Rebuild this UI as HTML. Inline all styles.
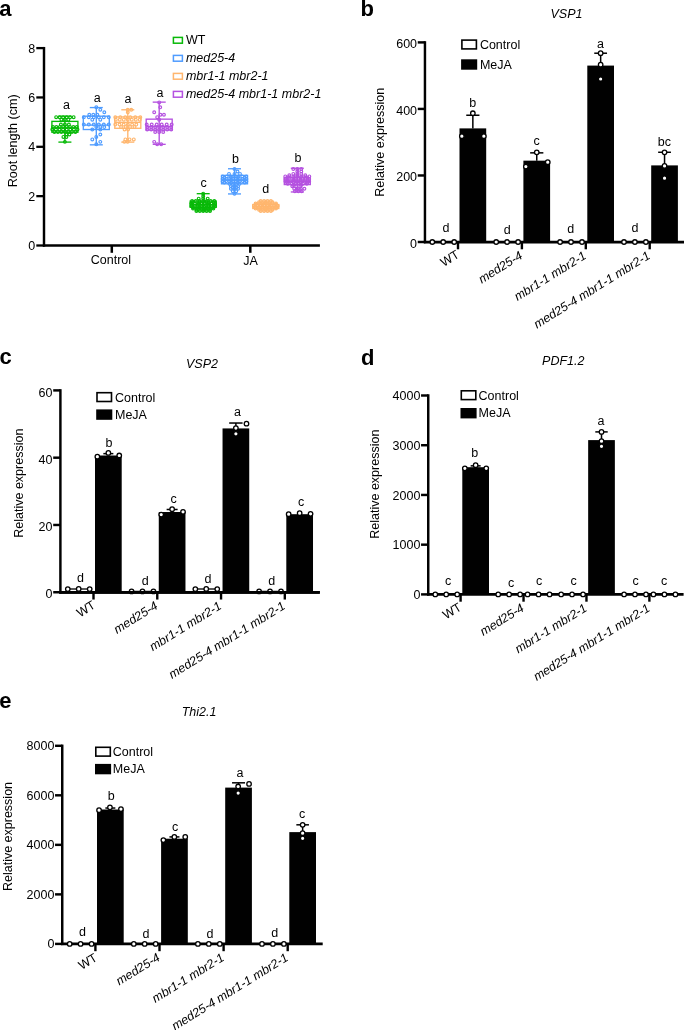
<!DOCTYPE html>
<html><head><meta charset="utf-8"><title>Figure</title>
<style>html,body{margin:0;padding:0;background:#fff}svg{display:block;will-change:transform;opacity:0.9999}text{font-family:"Liberation Sans",sans-serif}</style>
</head><body>
<svg width="685" height="1030" viewBox="0 0 685 1030">
<rect width="685" height="1030" fill="#fff"/>
<text x="-0.8" y="15.8" font-size="22" text-anchor="start" font-weight="bold" fill="#000">a</text>
<line x1="44.00" y1="46.95" x2="44.00" y2="246.65" stroke="#000" stroke-width="2.45" stroke-linecap="butt"/>
<line x1="42.90" y1="245.50" x2="319.90" y2="245.50" stroke="#000" stroke-width="2.5" stroke-linecap="butt"/>
<line x1="36.30" y1="245.50" x2="44.00" y2="245.50" stroke="#000" stroke-width="2.3" stroke-linecap="butt"/>
<text x="35.3" y="250.0" font-size="12.5" text-anchor="end" fill="#000">0</text>
<line x1="36.30" y1="196.15" x2="44.00" y2="196.15" stroke="#000" stroke-width="2.3" stroke-linecap="butt"/>
<text x="35.3" y="200.65" font-size="12.5" text-anchor="end" fill="#000">2</text>
<line x1="36.30" y1="146.80" x2="44.00" y2="146.80" stroke="#000" stroke-width="2.3" stroke-linecap="butt"/>
<text x="35.3" y="151.3" font-size="12.5" text-anchor="end" fill="#000">4</text>
<line x1="36.30" y1="97.45" x2="44.00" y2="97.45" stroke="#000" stroke-width="2.3" stroke-linecap="butt"/>
<text x="35.3" y="101.94999999999999" font-size="12.5" text-anchor="end" fill="#000">6</text>
<line x1="36.30" y1="48.10" x2="44.00" y2="48.10" stroke="#000" stroke-width="2.3" stroke-linecap="butt"/>
<text x="35.3" y="52.599999999999994" font-size="12.5" text-anchor="end" fill="#000">8</text>
<line x1="111.80" y1="245.50" x2="111.80" y2="252.80" stroke="#000" stroke-width="2.5" stroke-linecap="butt"/>
<text x="110.9" y="263.7" font-size="12.5" text-anchor="middle" fill="#000">Control</text>
<line x1="250.30" y1="245.50" x2="250.30" y2="252.80" stroke="#000" stroke-width="2.5" stroke-linecap="butt"/>
<text x="250.5" y="264.7" font-size="12.5" text-anchor="middle" fill="#000">JA</text>
<text x="16.8" y="140.8" font-size="12.6" text-anchor="middle" transform="rotate(-90 16.8 140.8)" fill="#000">Root length (cm)</text>
<rect x="173.40" y="37.40" width="9.00" height="5.80" fill="#fff" stroke="#08B908" stroke-width="1.5"/>
<text x="185.9" y="43.8" font-size="12.5" text-anchor="start" fill="#000">WT</text>
<rect x="173.40" y="55.40" width="9.00" height="5.80" fill="#fff" stroke="#4F9CFF" stroke-width="1.5"/>
<text x="185.9" y="61.8" font-size="12.5" text-anchor="start" font-style="italic" fill="#000">med25-4</text>
<rect x="173.40" y="73.40" width="9.00" height="5.80" fill="#fff" stroke="#FFB66E" stroke-width="1.5"/>
<text x="185.9" y="79.8" font-size="12.5" text-anchor="start" font-style="italic" fill="#000">mbr1-1 mbr2-1</text>
<rect x="173.40" y="91.40" width="9.00" height="5.80" fill="#fff" stroke="#B552E0" stroke-width="1.5"/>
<text x="185.9" y="97.8" font-size="12.5" text-anchor="start" font-style="italic" fill="#000">med25-4 mbr1-1 mbr2-1</text>
<line x1="64.90" y1="142.11" x2="64.90" y2="116.20" stroke="#08B908" stroke-width="1.35" stroke-linecap="butt"/>
<line x1="58.40" y1="142.11" x2="71.40" y2="142.11" stroke="#08B908" stroke-width="1.35" stroke-linecap="butt"/>
<line x1="58.40" y1="116.20" x2="71.40" y2="116.20" stroke="#08B908" stroke-width="1.35" stroke-linecap="butt"/>
<rect x="51.90" y="121.38" width="26.00" height="10.86" fill="none" stroke="#08B908" stroke-width="1.35"/>
<line x1="51.90" y1="127.80" x2="77.90" y2="127.80" stroke="#08B908" stroke-width="1.35" stroke-linecap="butt"/>
<circle cx="56.15" cy="117.19" r="1.4" fill="none" stroke="#08B908" stroke-width="1.15"/>
<circle cx="59.65" cy="117.19" r="1.4" fill="none" stroke="#08B908" stroke-width="1.15"/>
<circle cx="63.15" cy="117.19" r="1.4" fill="none" stroke="#08B908" stroke-width="1.15"/>
<circle cx="66.65" cy="117.19" r="1.4" fill="none" stroke="#08B908" stroke-width="1.15"/>
<circle cx="70.15" cy="117.19" r="1.4" fill="none" stroke="#08B908" stroke-width="1.15"/>
<circle cx="73.65" cy="117.19" r="1.4" fill="none" stroke="#08B908" stroke-width="1.15"/>
<circle cx="61.40" cy="119.66" r="1.4" fill="none" stroke="#08B908" stroke-width="1.15"/>
<circle cx="64.90" cy="119.66" r="1.4" fill="none" stroke="#08B908" stroke-width="1.15"/>
<circle cx="68.40" cy="119.66" r="1.4" fill="none" stroke="#08B908" stroke-width="1.15"/>
<circle cx="60.90" cy="124.59" r="1.4" fill="none" stroke="#08B908" stroke-width="1.15"/>
<circle cx="64.90" cy="124.59" r="1.4" fill="none" stroke="#08B908" stroke-width="1.15"/>
<circle cx="68.90" cy="124.59" r="1.4" fill="none" stroke="#08B908" stroke-width="1.15"/>
<circle cx="53.00" cy="127.06" r="1.4" fill="none" stroke="#08B908" stroke-width="1.15"/>
<circle cx="56.40" cy="127.06" r="1.4" fill="none" stroke="#08B908" stroke-width="1.15"/>
<circle cx="59.80" cy="127.06" r="1.4" fill="none" stroke="#08B908" stroke-width="1.15"/>
<circle cx="63.20" cy="127.06" r="1.4" fill="none" stroke="#08B908" stroke-width="1.15"/>
<circle cx="66.60" cy="127.06" r="1.4" fill="none" stroke="#08B908" stroke-width="1.15"/>
<circle cx="70.00" cy="127.06" r="1.4" fill="none" stroke="#08B908" stroke-width="1.15"/>
<circle cx="73.40" cy="127.06" r="1.4" fill="none" stroke="#08B908" stroke-width="1.15"/>
<circle cx="76.80" cy="127.06" r="1.4" fill="none" stroke="#08B908" stroke-width="1.15"/>
<circle cx="52.30" cy="129.53" r="1.4" fill="none" stroke="#08B908" stroke-width="1.15"/>
<circle cx="55.90" cy="129.53" r="1.4" fill="none" stroke="#08B908" stroke-width="1.15"/>
<circle cx="59.50" cy="129.53" r="1.4" fill="none" stroke="#08B908" stroke-width="1.15"/>
<circle cx="63.10" cy="129.53" r="1.4" fill="none" stroke="#08B908" stroke-width="1.15"/>
<circle cx="66.70" cy="129.53" r="1.4" fill="none" stroke="#08B908" stroke-width="1.15"/>
<circle cx="70.30" cy="129.53" r="1.4" fill="none" stroke="#08B908" stroke-width="1.15"/>
<circle cx="73.90" cy="129.53" r="1.4" fill="none" stroke="#08B908" stroke-width="1.15"/>
<circle cx="77.50" cy="129.53" r="1.4" fill="none" stroke="#08B908" stroke-width="1.15"/>
<circle cx="54.40" cy="132.00" r="1.4" fill="none" stroke="#08B908" stroke-width="1.15"/>
<circle cx="57.90" cy="132.00" r="1.4" fill="none" stroke="#08B908" stroke-width="1.15"/>
<circle cx="61.40" cy="132.00" r="1.4" fill="none" stroke="#08B908" stroke-width="1.15"/>
<circle cx="64.90" cy="132.00" r="1.4" fill="none" stroke="#08B908" stroke-width="1.15"/>
<circle cx="68.40" cy="132.00" r="1.4" fill="none" stroke="#08B908" stroke-width="1.15"/>
<circle cx="71.90" cy="132.00" r="1.4" fill="none" stroke="#08B908" stroke-width="1.15"/>
<circle cx="75.40" cy="132.00" r="1.4" fill="none" stroke="#08B908" stroke-width="1.15"/>
<circle cx="66.40" cy="134.46" r="1.4" fill="none" stroke="#08B908" stroke-width="1.15"/>
<circle cx="69.40" cy="134.46" r="1.4" fill="none" stroke="#08B908" stroke-width="1.15"/>
<circle cx="63.40" cy="136.93" r="1.4" fill="none" stroke="#08B908" stroke-width="1.15"/>
<circle cx="66.40" cy="136.93" r="1.4" fill="none" stroke="#08B908" stroke-width="1.15"/>
<circle cx="64.90" cy="141.87" r="1.4" fill="none" stroke="#08B908" stroke-width="1.15"/>
<text x="66.4" y="108.9" font-size="12.5" text-anchor="middle" fill="#000">a</text>
<line x1="96.30" y1="144.83" x2="96.30" y2="107.57" stroke="#4F9CFF" stroke-width="1.35" stroke-linecap="butt"/>
<line x1="89.80" y1="144.83" x2="102.80" y2="144.83" stroke="#4F9CFF" stroke-width="1.35" stroke-linecap="butt"/>
<line x1="89.80" y1="107.57" x2="102.80" y2="107.57" stroke="#4F9CFF" stroke-width="1.35" stroke-linecap="butt"/>
<rect x="83.30" y="116.20" width="26.00" height="13.32" fill="none" stroke="#4F9CFF" stroke-width="1.35"/>
<line x1="83.30" y1="125.09" x2="109.30" y2="125.09" stroke="#4F9CFF" stroke-width="1.35" stroke-linecap="butt"/>
<circle cx="96.30" cy="107.32" r="1.4" fill="none" stroke="#4F9CFF" stroke-width="1.15"/>
<circle cx="100.30" cy="109.79" r="1.4" fill="none" stroke="#4F9CFF" stroke-width="1.15"/>
<circle cx="104.30" cy="112.25" r="1.4" fill="none" stroke="#4F9CFF" stroke-width="1.15"/>
<circle cx="89.30" cy="114.72" r="1.4" fill="none" stroke="#4F9CFF" stroke-width="1.15"/>
<circle cx="93.30" cy="114.72" r="1.4" fill="none" stroke="#4F9CFF" stroke-width="1.15"/>
<circle cx="97.30" cy="114.72" r="1.4" fill="none" stroke="#4F9CFF" stroke-width="1.15"/>
<circle cx="83.80" cy="117.19" r="1.4" fill="none" stroke="#4F9CFF" stroke-width="1.15"/>
<circle cx="88.80" cy="117.19" r="1.4" fill="none" stroke="#4F9CFF" stroke-width="1.15"/>
<circle cx="93.80" cy="117.19" r="1.4" fill="none" stroke="#4F9CFF" stroke-width="1.15"/>
<circle cx="98.80" cy="117.19" r="1.4" fill="none" stroke="#4F9CFF" stroke-width="1.15"/>
<circle cx="103.80" cy="117.19" r="1.4" fill="none" stroke="#4F9CFF" stroke-width="1.15"/>
<circle cx="108.80" cy="117.19" r="1.4" fill="none" stroke="#4F9CFF" stroke-width="1.15"/>
<circle cx="92.30" cy="119.66" r="1.4" fill="none" stroke="#4F9CFF" stroke-width="1.15"/>
<circle cx="100.30" cy="119.66" r="1.4" fill="none" stroke="#4F9CFF" stroke-width="1.15"/>
<circle cx="83.80" cy="124.59" r="1.4" fill="none" stroke="#4F9CFF" stroke-width="1.15"/>
<circle cx="88.80" cy="124.59" r="1.4" fill="none" stroke="#4F9CFF" stroke-width="1.15"/>
<circle cx="93.80" cy="124.59" r="1.4" fill="none" stroke="#4F9CFF" stroke-width="1.15"/>
<circle cx="98.80" cy="124.59" r="1.4" fill="none" stroke="#4F9CFF" stroke-width="1.15"/>
<circle cx="103.80" cy="124.59" r="1.4" fill="none" stroke="#4F9CFF" stroke-width="1.15"/>
<circle cx="108.80" cy="124.59" r="1.4" fill="none" stroke="#4F9CFF" stroke-width="1.15"/>
<circle cx="96.30" cy="127.06" r="1.4" fill="none" stroke="#4F9CFF" stroke-width="1.15"/>
<circle cx="100.30" cy="127.06" r="1.4" fill="none" stroke="#4F9CFF" stroke-width="1.15"/>
<circle cx="104.30" cy="127.06" r="1.4" fill="none" stroke="#4F9CFF" stroke-width="1.15"/>
<circle cx="92.30" cy="129.53" r="1.4" fill="none" stroke="#4F9CFF" stroke-width="1.15"/>
<circle cx="100.30" cy="129.53" r="1.4" fill="none" stroke="#4F9CFF" stroke-width="1.15"/>
<circle cx="100.30" cy="134.46" r="1.4" fill="none" stroke="#4F9CFF" stroke-width="1.15"/>
<circle cx="96.30" cy="136.93" r="1.4" fill="none" stroke="#4F9CFF" stroke-width="1.15"/>
<circle cx="92.30" cy="139.40" r="1.4" fill="none" stroke="#4F9CFF" stroke-width="1.15"/>
<circle cx="100.30" cy="141.87" r="1.4" fill="none" stroke="#4F9CFF" stroke-width="1.15"/>
<circle cx="96.30" cy="144.33" r="1.4" fill="none" stroke="#4F9CFF" stroke-width="1.15"/>
<text x="97.2" y="101.5" font-size="12.5" text-anchor="middle" fill="#000">a</text>
<line x1="127.80" y1="142.11" x2="127.80" y2="109.79" stroke="#FFB66E" stroke-width="1.35" stroke-linecap="butt"/>
<line x1="121.30" y1="142.11" x2="134.30" y2="142.11" stroke="#FFB66E" stroke-width="1.35" stroke-linecap="butt"/>
<line x1="121.30" y1="109.79" x2="134.30" y2="109.79" stroke="#FFB66E" stroke-width="1.35" stroke-linecap="butt"/>
<rect x="114.80" y="116.94" width="26.00" height="11.35" fill="none" stroke="#FFB66E" stroke-width="1.35"/>
<line x1="114.80" y1="122.37" x2="140.80" y2="122.37" stroke="#FFB66E" stroke-width="1.35" stroke-linecap="butt"/>
<circle cx="127.75" cy="109.79" r="1.4" fill="none" stroke="#FFB66E" stroke-width="1.15"/>
<circle cx="131.25" cy="109.79" r="1.4" fill="none" stroke="#FFB66E" stroke-width="1.15"/>
<circle cx="127.80" cy="112.25" r="1.4" fill="none" stroke="#FFB66E" stroke-width="1.15"/>
<circle cx="115.30" cy="117.19" r="1.4" fill="none" stroke="#FFB66E" stroke-width="1.15"/>
<circle cx="120.30" cy="117.19" r="1.4" fill="none" stroke="#FFB66E" stroke-width="1.15"/>
<circle cx="125.30" cy="117.19" r="1.4" fill="none" stroke="#FFB66E" stroke-width="1.15"/>
<circle cx="130.30" cy="117.19" r="1.4" fill="none" stroke="#FFB66E" stroke-width="1.15"/>
<circle cx="135.30" cy="117.19" r="1.4" fill="none" stroke="#FFB66E" stroke-width="1.15"/>
<circle cx="140.30" cy="117.19" r="1.4" fill="none" stroke="#FFB66E" stroke-width="1.15"/>
<circle cx="115.80" cy="119.66" r="1.4" fill="none" stroke="#FFB66E" stroke-width="1.15"/>
<circle cx="119.80" cy="119.66" r="1.4" fill="none" stroke="#FFB66E" stroke-width="1.15"/>
<circle cx="123.80" cy="119.66" r="1.4" fill="none" stroke="#FFB66E" stroke-width="1.15"/>
<circle cx="127.80" cy="119.66" r="1.4" fill="none" stroke="#FFB66E" stroke-width="1.15"/>
<circle cx="131.80" cy="119.66" r="1.4" fill="none" stroke="#FFB66E" stroke-width="1.15"/>
<circle cx="135.80" cy="119.66" r="1.4" fill="none" stroke="#FFB66E" stroke-width="1.15"/>
<circle cx="139.80" cy="119.66" r="1.4" fill="none" stroke="#FFB66E" stroke-width="1.15"/>
<circle cx="115.30" cy="124.59" r="1.4" fill="none" stroke="#FFB66E" stroke-width="1.15"/>
<circle cx="119.50" cy="124.59" r="1.4" fill="none" stroke="#FFB66E" stroke-width="1.15"/>
<circle cx="123.70" cy="124.59" r="1.4" fill="none" stroke="#FFB66E" stroke-width="1.15"/>
<circle cx="127.90" cy="124.59" r="1.4" fill="none" stroke="#FFB66E" stroke-width="1.15"/>
<circle cx="132.10" cy="124.59" r="1.4" fill="none" stroke="#FFB66E" stroke-width="1.15"/>
<circle cx="136.30" cy="124.59" r="1.4" fill="none" stroke="#FFB66E" stroke-width="1.15"/>
<circle cx="121.05" cy="127.06" r="1.4" fill="none" stroke="#FFB66E" stroke-width="1.15"/>
<circle cx="125.55" cy="127.06" r="1.4" fill="none" stroke="#FFB66E" stroke-width="1.15"/>
<circle cx="130.05" cy="127.06" r="1.4" fill="none" stroke="#FFB66E" stroke-width="1.15"/>
<circle cx="134.55" cy="127.06" r="1.4" fill="none" stroke="#FFB66E" stroke-width="1.15"/>
<circle cx="124.55" cy="129.53" r="1.4" fill="none" stroke="#FFB66E" stroke-width="1.15"/>
<circle cx="128.05" cy="129.53" r="1.4" fill="none" stroke="#FFB66E" stroke-width="1.15"/>
<circle cx="125.40" cy="139.40" r="1.4" fill="none" stroke="#FFB66E" stroke-width="1.15"/>
<circle cx="129.60" cy="139.40" r="1.4" fill="none" stroke="#FFB66E" stroke-width="1.15"/>
<circle cx="133.80" cy="139.40" r="1.4" fill="none" stroke="#FFB66E" stroke-width="1.15"/>
<circle cx="124.40" cy="141.87" r="1.4" fill="none" stroke="#FFB66E" stroke-width="1.15"/>
<circle cx="127.60" cy="141.87" r="1.4" fill="none" stroke="#FFB66E" stroke-width="1.15"/>
<text x="127.9" y="103.0" font-size="12.5" text-anchor="middle" fill="#000">a</text>
<line x1="159.20" y1="144.33" x2="159.20" y2="102.14" stroke="#B552E0" stroke-width="1.35" stroke-linecap="butt"/>
<line x1="152.70" y1="144.33" x2="165.70" y2="144.33" stroke="#B552E0" stroke-width="1.35" stroke-linecap="butt"/>
<line x1="152.70" y1="102.14" x2="165.70" y2="102.14" stroke="#B552E0" stroke-width="1.35" stroke-linecap="butt"/>
<rect x="146.20" y="119.16" width="26.00" height="10.86" fill="none" stroke="#B552E0" stroke-width="1.35"/>
<line x1="146.20" y1="126.57" x2="172.20" y2="126.57" stroke="#B552E0" stroke-width="1.35" stroke-linecap="butt"/>
<circle cx="159.20" cy="102.38" r="1.4" fill="none" stroke="#B552E0" stroke-width="1.15"/>
<circle cx="160.20" cy="107.32" r="1.4" fill="none" stroke="#B552E0" stroke-width="1.15"/>
<circle cx="154.20" cy="112.25" r="1.4" fill="none" stroke="#B552E0" stroke-width="1.15"/>
<circle cx="160.45" cy="114.72" r="1.4" fill="none" stroke="#B552E0" stroke-width="1.15"/>
<circle cx="163.95" cy="114.72" r="1.4" fill="none" stroke="#B552E0" stroke-width="1.15"/>
<circle cx="157.20" cy="117.19" r="1.4" fill="none" stroke="#B552E0" stroke-width="1.15"/>
<circle cx="159.20" cy="119.66" r="1.4" fill="none" stroke="#B552E0" stroke-width="1.15"/>
<circle cx="146.70" cy="124.59" r="1.4" fill="none" stroke="#B552E0" stroke-width="1.15"/>
<circle cx="151.70" cy="124.59" r="1.4" fill="none" stroke="#B552E0" stroke-width="1.15"/>
<circle cx="156.70" cy="124.59" r="1.4" fill="none" stroke="#B552E0" stroke-width="1.15"/>
<circle cx="161.70" cy="124.59" r="1.4" fill="none" stroke="#B552E0" stroke-width="1.15"/>
<circle cx="166.70" cy="124.59" r="1.4" fill="none" stroke="#B552E0" stroke-width="1.15"/>
<circle cx="171.70" cy="124.59" r="1.4" fill="none" stroke="#B552E0" stroke-width="1.15"/>
<circle cx="147.20" cy="127.06" r="1.4" fill="none" stroke="#B552E0" stroke-width="1.15"/>
<circle cx="151.20" cy="127.06" r="1.4" fill="none" stroke="#B552E0" stroke-width="1.15"/>
<circle cx="155.20" cy="127.06" r="1.4" fill="none" stroke="#B552E0" stroke-width="1.15"/>
<circle cx="159.20" cy="127.06" r="1.4" fill="none" stroke="#B552E0" stroke-width="1.15"/>
<circle cx="163.20" cy="127.06" r="1.4" fill="none" stroke="#B552E0" stroke-width="1.15"/>
<circle cx="167.20" cy="127.06" r="1.4" fill="none" stroke="#B552E0" stroke-width="1.15"/>
<circle cx="171.20" cy="127.06" r="1.4" fill="none" stroke="#B552E0" stroke-width="1.15"/>
<circle cx="147.20" cy="129.53" r="1.4" fill="none" stroke="#B552E0" stroke-width="1.15"/>
<circle cx="151.20" cy="129.53" r="1.4" fill="none" stroke="#B552E0" stroke-width="1.15"/>
<circle cx="155.20" cy="129.53" r="1.4" fill="none" stroke="#B552E0" stroke-width="1.15"/>
<circle cx="159.20" cy="129.53" r="1.4" fill="none" stroke="#B552E0" stroke-width="1.15"/>
<circle cx="163.20" cy="129.53" r="1.4" fill="none" stroke="#B552E0" stroke-width="1.15"/>
<circle cx="167.20" cy="129.53" r="1.4" fill="none" stroke="#B552E0" stroke-width="1.15"/>
<circle cx="171.20" cy="129.53" r="1.4" fill="none" stroke="#B552E0" stroke-width="1.15"/>
<circle cx="155.20" cy="132.00" r="1.4" fill="none" stroke="#B552E0" stroke-width="1.15"/>
<circle cx="159.20" cy="132.00" r="1.4" fill="none" stroke="#B552E0" stroke-width="1.15"/>
<circle cx="163.20" cy="132.00" r="1.4" fill="none" stroke="#B552E0" stroke-width="1.15"/>
<circle cx="154.20" cy="141.87" r="1.4" fill="none" stroke="#B552E0" stroke-width="1.15"/>
<circle cx="157.20" cy="144.33" r="1.4" fill="none" stroke="#B552E0" stroke-width="1.15"/>
<circle cx="161.20" cy="144.33" r="1.4" fill="none" stroke="#B552E0" stroke-width="1.15"/>
<text x="160.0" y="97.1" font-size="12.5" text-anchor="middle" fill="#000">a</text>
<line x1="203.20" y1="210.95" x2="203.20" y2="193.68" stroke="#08B908" stroke-width="1.35" stroke-linecap="butt"/>
<line x1="196.70" y1="210.95" x2="209.70" y2="210.95" stroke="#08B908" stroke-width="1.35" stroke-linecap="butt"/>
<line x1="196.70" y1="193.68" x2="209.70" y2="193.68" stroke="#08B908" stroke-width="1.35" stroke-linecap="butt"/>
<rect x="190.20" y="201.09" width="26.00" height="6.17" fill="none" stroke="#08B908" stroke-width="1.35"/>
<line x1="190.20" y1="204.79" x2="216.20" y2="204.79" stroke="#08B908" stroke-width="1.35" stroke-linecap="butt"/>
<circle cx="203.20" cy="193.68" r="1.4" fill="none" stroke="#08B908" stroke-width="1.15"/>
<circle cx="203.20" cy="196.15" r="1.4" fill="none" stroke="#08B908" stroke-width="1.15"/>
<circle cx="198.70" cy="198.62" r="1.4" fill="none" stroke="#08B908" stroke-width="1.15"/>
<circle cx="203.20" cy="198.62" r="1.4" fill="none" stroke="#08B908" stroke-width="1.15"/>
<circle cx="207.70" cy="198.62" r="1.4" fill="none" stroke="#08B908" stroke-width="1.15"/>
<circle cx="192.10" cy="201.09" r="1.4" fill="none" stroke="#08B908" stroke-width="1.15"/>
<circle cx="195.80" cy="201.09" r="1.4" fill="none" stroke="#08B908" stroke-width="1.15"/>
<circle cx="199.50" cy="201.09" r="1.4" fill="none" stroke="#08B908" stroke-width="1.15"/>
<circle cx="203.20" cy="201.09" r="1.4" fill="none" stroke="#08B908" stroke-width="1.15"/>
<circle cx="206.90" cy="201.09" r="1.4" fill="none" stroke="#08B908" stroke-width="1.15"/>
<circle cx="210.60" cy="201.09" r="1.4" fill="none" stroke="#08B908" stroke-width="1.15"/>
<circle cx="214.30" cy="201.09" r="1.4" fill="none" stroke="#08B908" stroke-width="1.15"/>
<circle cx="193.00" cy="202.32" r="1.4" fill="none" stroke="#08B908" stroke-width="1.15"/>
<circle cx="199.80" cy="202.32" r="1.4" fill="none" stroke="#08B908" stroke-width="1.15"/>
<circle cx="206.60" cy="202.32" r="1.4" fill="none" stroke="#08B908" stroke-width="1.15"/>
<circle cx="213.40" cy="202.32" r="1.4" fill="none" stroke="#08B908" stroke-width="1.15"/>
<circle cx="191.30" cy="203.55" r="1.4" fill="none" stroke="#08B908" stroke-width="1.15"/>
<circle cx="194.70" cy="203.55" r="1.4" fill="none" stroke="#08B908" stroke-width="1.15"/>
<circle cx="198.10" cy="203.55" r="1.4" fill="none" stroke="#08B908" stroke-width="1.15"/>
<circle cx="201.50" cy="203.55" r="1.4" fill="none" stroke="#08B908" stroke-width="1.15"/>
<circle cx="204.90" cy="203.55" r="1.4" fill="none" stroke="#08B908" stroke-width="1.15"/>
<circle cx="208.30" cy="203.55" r="1.4" fill="none" stroke="#08B908" stroke-width="1.15"/>
<circle cx="211.70" cy="203.55" r="1.4" fill="none" stroke="#08B908" stroke-width="1.15"/>
<circle cx="215.10" cy="203.55" r="1.4" fill="none" stroke="#08B908" stroke-width="1.15"/>
<circle cx="192.00" cy="204.79" r="1.4" fill="none" stroke="#08B908" stroke-width="1.15"/>
<circle cx="197.60" cy="204.79" r="1.4" fill="none" stroke="#08B908" stroke-width="1.15"/>
<circle cx="203.20" cy="204.79" r="1.4" fill="none" stroke="#08B908" stroke-width="1.15"/>
<circle cx="208.80" cy="204.79" r="1.4" fill="none" stroke="#08B908" stroke-width="1.15"/>
<circle cx="214.40" cy="204.79" r="1.4" fill="none" stroke="#08B908" stroke-width="1.15"/>
<circle cx="191.30" cy="206.02" r="1.4" fill="none" stroke="#08B908" stroke-width="1.15"/>
<circle cx="194.70" cy="206.02" r="1.4" fill="none" stroke="#08B908" stroke-width="1.15"/>
<circle cx="198.10" cy="206.02" r="1.4" fill="none" stroke="#08B908" stroke-width="1.15"/>
<circle cx="201.50" cy="206.02" r="1.4" fill="none" stroke="#08B908" stroke-width="1.15"/>
<circle cx="204.90" cy="206.02" r="1.4" fill="none" stroke="#08B908" stroke-width="1.15"/>
<circle cx="208.30" cy="206.02" r="1.4" fill="none" stroke="#08B908" stroke-width="1.15"/>
<circle cx="211.70" cy="206.02" r="1.4" fill="none" stroke="#08B908" stroke-width="1.15"/>
<circle cx="215.10" cy="206.02" r="1.4" fill="none" stroke="#08B908" stroke-width="1.15"/>
<circle cx="193.00" cy="207.25" r="1.4" fill="none" stroke="#08B908" stroke-width="1.15"/>
<circle cx="199.80" cy="207.25" r="1.4" fill="none" stroke="#08B908" stroke-width="1.15"/>
<circle cx="206.60" cy="207.25" r="1.4" fill="none" stroke="#08B908" stroke-width="1.15"/>
<circle cx="213.40" cy="207.25" r="1.4" fill="none" stroke="#08B908" stroke-width="1.15"/>
<circle cx="193.00" cy="208.49" r="1.4" fill="none" stroke="#08B908" stroke-width="1.15"/>
<circle cx="196.40" cy="208.49" r="1.4" fill="none" stroke="#08B908" stroke-width="1.15"/>
<circle cx="199.80" cy="208.49" r="1.4" fill="none" stroke="#08B908" stroke-width="1.15"/>
<circle cx="203.20" cy="208.49" r="1.4" fill="none" stroke="#08B908" stroke-width="1.15"/>
<circle cx="206.60" cy="208.49" r="1.4" fill="none" stroke="#08B908" stroke-width="1.15"/>
<circle cx="210.00" cy="208.49" r="1.4" fill="none" stroke="#08B908" stroke-width="1.15"/>
<circle cx="213.40" cy="208.49" r="1.4" fill="none" stroke="#08B908" stroke-width="1.15"/>
<circle cx="196.40" cy="209.72" r="1.4" fill="none" stroke="#08B908" stroke-width="1.15"/>
<circle cx="203.20" cy="209.72" r="1.4" fill="none" stroke="#08B908" stroke-width="1.15"/>
<circle cx="210.00" cy="209.72" r="1.4" fill="none" stroke="#08B908" stroke-width="1.15"/>
<circle cx="196.40" cy="210.95" r="1.4" fill="none" stroke="#08B908" stroke-width="1.15"/>
<circle cx="199.80" cy="210.95" r="1.4" fill="none" stroke="#08B908" stroke-width="1.15"/>
<circle cx="203.20" cy="210.95" r="1.4" fill="none" stroke="#08B908" stroke-width="1.15"/>
<circle cx="206.60" cy="210.95" r="1.4" fill="none" stroke="#08B908" stroke-width="1.15"/>
<circle cx="210.00" cy="210.95" r="1.4" fill="none" stroke="#08B908" stroke-width="1.15"/>
<text x="203.5" y="187.0" font-size="12.5" text-anchor="middle" fill="#000">c</text>
<line x1="234.50" y1="193.93" x2="234.50" y2="168.76" stroke="#4F9CFF" stroke-width="1.35" stroke-linecap="butt"/>
<line x1="228.00" y1="193.93" x2="241.00" y2="193.93" stroke="#4F9CFF" stroke-width="1.35" stroke-linecap="butt"/>
<line x1="228.00" y1="168.76" x2="241.00" y2="168.76" stroke="#4F9CFF" stroke-width="1.35" stroke-linecap="butt"/>
<rect x="221.50" y="175.42" width="26.00" height="8.39" fill="none" stroke="#4F9CFF" stroke-width="1.35"/>
<line x1="221.50" y1="180.11" x2="247.50" y2="180.11" stroke="#4F9CFF" stroke-width="1.35" stroke-linecap="butt"/>
<circle cx="234.50" cy="169.01" r="1.4" fill="none" stroke="#4F9CFF" stroke-width="1.15"/>
<circle cx="237.50" cy="171.47" r="1.4" fill="none" stroke="#4F9CFF" stroke-width="1.15"/>
<circle cx="229.00" cy="173.94" r="1.4" fill="none" stroke="#4F9CFF" stroke-width="1.15"/>
<circle cx="234.50" cy="173.94" r="1.4" fill="none" stroke="#4F9CFF" stroke-width="1.15"/>
<circle cx="240.00" cy="173.94" r="1.4" fill="none" stroke="#4F9CFF" stroke-width="1.15"/>
<circle cx="222.80" cy="176.41" r="1.4" fill="none" stroke="#4F9CFF" stroke-width="1.15"/>
<circle cx="226.70" cy="176.41" r="1.4" fill="none" stroke="#4F9CFF" stroke-width="1.15"/>
<circle cx="230.60" cy="176.41" r="1.4" fill="none" stroke="#4F9CFF" stroke-width="1.15"/>
<circle cx="234.50" cy="176.41" r="1.4" fill="none" stroke="#4F9CFF" stroke-width="1.15"/>
<circle cx="238.40" cy="176.41" r="1.4" fill="none" stroke="#4F9CFF" stroke-width="1.15"/>
<circle cx="242.30" cy="176.41" r="1.4" fill="none" stroke="#4F9CFF" stroke-width="1.15"/>
<circle cx="246.20" cy="176.41" r="1.4" fill="none" stroke="#4F9CFF" stroke-width="1.15"/>
<circle cx="224.30" cy="177.64" r="1.4" fill="none" stroke="#4F9CFF" stroke-width="1.15"/>
<circle cx="231.10" cy="177.64" r="1.4" fill="none" stroke="#4F9CFF" stroke-width="1.15"/>
<circle cx="237.90" cy="177.64" r="1.4" fill="none" stroke="#4F9CFF" stroke-width="1.15"/>
<circle cx="244.70" cy="177.64" r="1.4" fill="none" stroke="#4F9CFF" stroke-width="1.15"/>
<circle cx="222.60" cy="178.88" r="1.4" fill="none" stroke="#4F9CFF" stroke-width="1.15"/>
<circle cx="226.00" cy="178.88" r="1.4" fill="none" stroke="#4F9CFF" stroke-width="1.15"/>
<circle cx="229.40" cy="178.88" r="1.4" fill="none" stroke="#4F9CFF" stroke-width="1.15"/>
<circle cx="232.80" cy="178.88" r="1.4" fill="none" stroke="#4F9CFF" stroke-width="1.15"/>
<circle cx="236.20" cy="178.88" r="1.4" fill="none" stroke="#4F9CFF" stroke-width="1.15"/>
<circle cx="239.60" cy="178.88" r="1.4" fill="none" stroke="#4F9CFF" stroke-width="1.15"/>
<circle cx="243.00" cy="178.88" r="1.4" fill="none" stroke="#4F9CFF" stroke-width="1.15"/>
<circle cx="246.40" cy="178.88" r="1.4" fill="none" stroke="#4F9CFF" stroke-width="1.15"/>
<circle cx="224.30" cy="180.11" r="1.4" fill="none" stroke="#4F9CFF" stroke-width="1.15"/>
<circle cx="231.10" cy="180.11" r="1.4" fill="none" stroke="#4F9CFF" stroke-width="1.15"/>
<circle cx="237.90" cy="180.11" r="1.4" fill="none" stroke="#4F9CFF" stroke-width="1.15"/>
<circle cx="244.70" cy="180.11" r="1.4" fill="none" stroke="#4F9CFF" stroke-width="1.15"/>
<circle cx="222.60" cy="181.34" r="1.4" fill="none" stroke="#4F9CFF" stroke-width="1.15"/>
<circle cx="226.00" cy="181.34" r="1.4" fill="none" stroke="#4F9CFF" stroke-width="1.15"/>
<circle cx="229.40" cy="181.34" r="1.4" fill="none" stroke="#4F9CFF" stroke-width="1.15"/>
<circle cx="232.80" cy="181.34" r="1.4" fill="none" stroke="#4F9CFF" stroke-width="1.15"/>
<circle cx="236.20" cy="181.34" r="1.4" fill="none" stroke="#4F9CFF" stroke-width="1.15"/>
<circle cx="239.60" cy="181.34" r="1.4" fill="none" stroke="#4F9CFF" stroke-width="1.15"/>
<circle cx="243.00" cy="181.34" r="1.4" fill="none" stroke="#4F9CFF" stroke-width="1.15"/>
<circle cx="246.40" cy="181.34" r="1.4" fill="none" stroke="#4F9CFF" stroke-width="1.15"/>
<circle cx="224.30" cy="182.58" r="1.4" fill="none" stroke="#4F9CFF" stroke-width="1.15"/>
<circle cx="231.10" cy="182.58" r="1.4" fill="none" stroke="#4F9CFF" stroke-width="1.15"/>
<circle cx="237.90" cy="182.58" r="1.4" fill="none" stroke="#4F9CFF" stroke-width="1.15"/>
<circle cx="244.70" cy="182.58" r="1.4" fill="none" stroke="#4F9CFF" stroke-width="1.15"/>
<circle cx="229.40" cy="183.81" r="1.4" fill="none" stroke="#4F9CFF" stroke-width="1.15"/>
<circle cx="232.80" cy="183.81" r="1.4" fill="none" stroke="#4F9CFF" stroke-width="1.15"/>
<circle cx="236.20" cy="183.81" r="1.4" fill="none" stroke="#4F9CFF" stroke-width="1.15"/>
<circle cx="239.60" cy="183.81" r="1.4" fill="none" stroke="#4F9CFF" stroke-width="1.15"/>
<circle cx="230.90" cy="186.28" r="1.4" fill="none" stroke="#4F9CFF" stroke-width="1.15"/>
<circle cx="234.50" cy="186.28" r="1.4" fill="none" stroke="#4F9CFF" stroke-width="1.15"/>
<circle cx="238.10" cy="186.28" r="1.4" fill="none" stroke="#4F9CFF" stroke-width="1.15"/>
<circle cx="232.70" cy="187.51" r="1.4" fill="none" stroke="#4F9CFF" stroke-width="1.15"/>
<circle cx="236.30" cy="187.51" r="1.4" fill="none" stroke="#4F9CFF" stroke-width="1.15"/>
<circle cx="230.90" cy="188.75" r="1.4" fill="none" stroke="#4F9CFF" stroke-width="1.15"/>
<circle cx="234.50" cy="188.75" r="1.4" fill="none" stroke="#4F9CFF" stroke-width="1.15"/>
<circle cx="238.10" cy="188.75" r="1.4" fill="none" stroke="#4F9CFF" stroke-width="1.15"/>
<circle cx="232.80" cy="191.22" r="1.4" fill="none" stroke="#4F9CFF" stroke-width="1.15"/>
<circle cx="236.20" cy="191.22" r="1.4" fill="none" stroke="#4F9CFF" stroke-width="1.15"/>
<circle cx="234.50" cy="193.68" r="1.4" fill="none" stroke="#4F9CFF" stroke-width="1.15"/>
<text x="235.6" y="162.5" font-size="12.5" text-anchor="middle" fill="#000">b</text>
<line x1="265.80" y1="210.95" x2="265.80" y2="201.09" stroke="#FFB66E" stroke-width="1.35" stroke-linecap="butt"/>
<line x1="259.30" y1="210.95" x2="272.30" y2="210.95" stroke="#FFB66E" stroke-width="1.35" stroke-linecap="butt"/>
<line x1="259.30" y1="201.09" x2="272.30" y2="201.09" stroke="#FFB66E" stroke-width="1.35" stroke-linecap="butt"/>
<rect x="252.80" y="204.54" width="26.00" height="3.95" fill="none" stroke="#FFB66E" stroke-width="1.35"/>
<line x1="252.80" y1="206.51" x2="278.80" y2="206.51" stroke="#FFB66E" stroke-width="1.35" stroke-linecap="butt"/>
<circle cx="260.70" cy="201.09" r="1.4" fill="none" stroke="#FFB66E" stroke-width="1.15"/>
<circle cx="264.10" cy="201.09" r="1.4" fill="none" stroke="#FFB66E" stroke-width="1.15"/>
<circle cx="267.50" cy="201.09" r="1.4" fill="none" stroke="#FFB66E" stroke-width="1.15"/>
<circle cx="270.90" cy="201.09" r="1.4" fill="none" stroke="#FFB66E" stroke-width="1.15"/>
<circle cx="259.00" cy="202.32" r="1.4" fill="none" stroke="#FFB66E" stroke-width="1.15"/>
<circle cx="265.80" cy="202.32" r="1.4" fill="none" stroke="#FFB66E" stroke-width="1.15"/>
<circle cx="272.60" cy="202.32" r="1.4" fill="none" stroke="#FFB66E" stroke-width="1.15"/>
<circle cx="255.60" cy="203.55" r="1.4" fill="none" stroke="#FFB66E" stroke-width="1.15"/>
<circle cx="259.00" cy="203.55" r="1.4" fill="none" stroke="#FFB66E" stroke-width="1.15"/>
<circle cx="262.40" cy="203.55" r="1.4" fill="none" stroke="#FFB66E" stroke-width="1.15"/>
<circle cx="265.80" cy="203.55" r="1.4" fill="none" stroke="#FFB66E" stroke-width="1.15"/>
<circle cx="269.20" cy="203.55" r="1.4" fill="none" stroke="#FFB66E" stroke-width="1.15"/>
<circle cx="272.60" cy="203.55" r="1.4" fill="none" stroke="#FFB66E" stroke-width="1.15"/>
<circle cx="276.00" cy="203.55" r="1.4" fill="none" stroke="#FFB66E" stroke-width="1.15"/>
<circle cx="255.60" cy="204.79" r="1.4" fill="none" stroke="#FFB66E" stroke-width="1.15"/>
<circle cx="262.40" cy="204.79" r="1.4" fill="none" stroke="#FFB66E" stroke-width="1.15"/>
<circle cx="269.20" cy="204.79" r="1.4" fill="none" stroke="#FFB66E" stroke-width="1.15"/>
<circle cx="276.00" cy="204.79" r="1.4" fill="none" stroke="#FFB66E" stroke-width="1.15"/>
<circle cx="253.90" cy="206.02" r="1.4" fill="none" stroke="#FFB66E" stroke-width="1.15"/>
<circle cx="257.30" cy="206.02" r="1.4" fill="none" stroke="#FFB66E" stroke-width="1.15"/>
<circle cx="260.70" cy="206.02" r="1.4" fill="none" stroke="#FFB66E" stroke-width="1.15"/>
<circle cx="264.10" cy="206.02" r="1.4" fill="none" stroke="#FFB66E" stroke-width="1.15"/>
<circle cx="267.50" cy="206.02" r="1.4" fill="none" stroke="#FFB66E" stroke-width="1.15"/>
<circle cx="270.90" cy="206.02" r="1.4" fill="none" stroke="#FFB66E" stroke-width="1.15"/>
<circle cx="274.30" cy="206.02" r="1.4" fill="none" stroke="#FFB66E" stroke-width="1.15"/>
<circle cx="277.70" cy="206.02" r="1.4" fill="none" stroke="#FFB66E" stroke-width="1.15"/>
<circle cx="255.60" cy="207.25" r="1.4" fill="none" stroke="#FFB66E" stroke-width="1.15"/>
<circle cx="262.40" cy="207.25" r="1.4" fill="none" stroke="#FFB66E" stroke-width="1.15"/>
<circle cx="269.20" cy="207.25" r="1.4" fill="none" stroke="#FFB66E" stroke-width="1.15"/>
<circle cx="276.00" cy="207.25" r="1.4" fill="none" stroke="#FFB66E" stroke-width="1.15"/>
<circle cx="255.60" cy="208.49" r="1.4" fill="none" stroke="#FFB66E" stroke-width="1.15"/>
<circle cx="259.00" cy="208.49" r="1.4" fill="none" stroke="#FFB66E" stroke-width="1.15"/>
<circle cx="262.40" cy="208.49" r="1.4" fill="none" stroke="#FFB66E" stroke-width="1.15"/>
<circle cx="265.80" cy="208.49" r="1.4" fill="none" stroke="#FFB66E" stroke-width="1.15"/>
<circle cx="269.20" cy="208.49" r="1.4" fill="none" stroke="#FFB66E" stroke-width="1.15"/>
<circle cx="272.60" cy="208.49" r="1.4" fill="none" stroke="#FFB66E" stroke-width="1.15"/>
<circle cx="276.00" cy="208.49" r="1.4" fill="none" stroke="#FFB66E" stroke-width="1.15"/>
<circle cx="259.00" cy="209.72" r="1.4" fill="none" stroke="#FFB66E" stroke-width="1.15"/>
<circle cx="265.80" cy="209.72" r="1.4" fill="none" stroke="#FFB66E" stroke-width="1.15"/>
<circle cx="272.60" cy="209.72" r="1.4" fill="none" stroke="#FFB66E" stroke-width="1.15"/>
<circle cx="260.70" cy="210.95" r="1.4" fill="none" stroke="#FFB66E" stroke-width="1.15"/>
<circle cx="264.10" cy="210.95" r="1.4" fill="none" stroke="#FFB66E" stroke-width="1.15"/>
<circle cx="267.50" cy="210.95" r="1.4" fill="none" stroke="#FFB66E" stroke-width="1.15"/>
<circle cx="270.90" cy="210.95" r="1.4" fill="none" stroke="#FFB66E" stroke-width="1.15"/>
<text x="265.8" y="192.5" font-size="12.5" text-anchor="middle" fill="#000">d</text>
<line x1="297.30" y1="191.96" x2="297.30" y2="168.27" stroke="#B552E0" stroke-width="1.35" stroke-linecap="butt"/>
<line x1="290.80" y1="191.96" x2="303.80" y2="191.96" stroke="#B552E0" stroke-width="1.35" stroke-linecap="butt"/>
<line x1="290.80" y1="168.27" x2="303.80" y2="168.27" stroke="#B552E0" stroke-width="1.35" stroke-linecap="butt"/>
<rect x="284.30" y="177.64" width="26.00" height="6.91" fill="none" stroke="#B552E0" stroke-width="1.35"/>
<line x1="284.30" y1="181.34" x2="310.30" y2="181.34" stroke="#B552E0" stroke-width="1.35" stroke-linecap="butt"/>
<circle cx="293.30" cy="169.01" r="1.4" fill="none" stroke="#B552E0" stroke-width="1.15"/>
<circle cx="297.30" cy="169.01" r="1.4" fill="none" stroke="#B552E0" stroke-width="1.15"/>
<circle cx="301.30" cy="169.01" r="1.4" fill="none" stroke="#B552E0" stroke-width="1.15"/>
<circle cx="297.30" cy="171.47" r="1.4" fill="none" stroke="#B552E0" stroke-width="1.15"/>
<circle cx="301.30" cy="171.47" r="1.4" fill="none" stroke="#B552E0" stroke-width="1.15"/>
<circle cx="293.30" cy="173.94" r="1.4" fill="none" stroke="#B552E0" stroke-width="1.15"/>
<circle cx="297.30" cy="173.94" r="1.4" fill="none" stroke="#B552E0" stroke-width="1.15"/>
<circle cx="301.30" cy="173.94" r="1.4" fill="none" stroke="#B552E0" stroke-width="1.15"/>
<circle cx="289.30" cy="175.18" r="1.4" fill="none" stroke="#B552E0" stroke-width="1.15"/>
<circle cx="297.30" cy="175.18" r="1.4" fill="none" stroke="#B552E0" stroke-width="1.15"/>
<circle cx="305.30" cy="175.18" r="1.4" fill="none" stroke="#B552E0" stroke-width="1.15"/>
<circle cx="285.30" cy="176.41" r="1.4" fill="none" stroke="#B552E0" stroke-width="1.15"/>
<circle cx="289.30" cy="176.41" r="1.4" fill="none" stroke="#B552E0" stroke-width="1.15"/>
<circle cx="293.30" cy="176.41" r="1.4" fill="none" stroke="#B552E0" stroke-width="1.15"/>
<circle cx="297.30" cy="176.41" r="1.4" fill="none" stroke="#B552E0" stroke-width="1.15"/>
<circle cx="301.30" cy="176.41" r="1.4" fill="none" stroke="#B552E0" stroke-width="1.15"/>
<circle cx="305.30" cy="176.41" r="1.4" fill="none" stroke="#B552E0" stroke-width="1.15"/>
<circle cx="309.30" cy="176.41" r="1.4" fill="none" stroke="#B552E0" stroke-width="1.15"/>
<circle cx="287.10" cy="177.64" r="1.4" fill="none" stroke="#B552E0" stroke-width="1.15"/>
<circle cx="293.90" cy="177.64" r="1.4" fill="none" stroke="#B552E0" stroke-width="1.15"/>
<circle cx="300.70" cy="177.64" r="1.4" fill="none" stroke="#B552E0" stroke-width="1.15"/>
<circle cx="307.50" cy="177.64" r="1.4" fill="none" stroke="#B552E0" stroke-width="1.15"/>
<circle cx="285.40" cy="178.88" r="1.4" fill="none" stroke="#B552E0" stroke-width="1.15"/>
<circle cx="288.80" cy="178.88" r="1.4" fill="none" stroke="#B552E0" stroke-width="1.15"/>
<circle cx="292.20" cy="178.88" r="1.4" fill="none" stroke="#B552E0" stroke-width="1.15"/>
<circle cx="295.60" cy="178.88" r="1.4" fill="none" stroke="#B552E0" stroke-width="1.15"/>
<circle cx="299.00" cy="178.88" r="1.4" fill="none" stroke="#B552E0" stroke-width="1.15"/>
<circle cx="302.40" cy="178.88" r="1.4" fill="none" stroke="#B552E0" stroke-width="1.15"/>
<circle cx="305.80" cy="178.88" r="1.4" fill="none" stroke="#B552E0" stroke-width="1.15"/>
<circle cx="309.20" cy="178.88" r="1.4" fill="none" stroke="#B552E0" stroke-width="1.15"/>
<circle cx="287.10" cy="180.11" r="1.4" fill="none" stroke="#B552E0" stroke-width="1.15"/>
<circle cx="293.90" cy="180.11" r="1.4" fill="none" stroke="#B552E0" stroke-width="1.15"/>
<circle cx="300.70" cy="180.11" r="1.4" fill="none" stroke="#B552E0" stroke-width="1.15"/>
<circle cx="307.50" cy="180.11" r="1.4" fill="none" stroke="#B552E0" stroke-width="1.15"/>
<circle cx="285.40" cy="181.34" r="1.4" fill="none" stroke="#B552E0" stroke-width="1.15"/>
<circle cx="288.80" cy="181.34" r="1.4" fill="none" stroke="#B552E0" stroke-width="1.15"/>
<circle cx="292.20" cy="181.34" r="1.4" fill="none" stroke="#B552E0" stroke-width="1.15"/>
<circle cx="295.60" cy="181.34" r="1.4" fill="none" stroke="#B552E0" stroke-width="1.15"/>
<circle cx="299.00" cy="181.34" r="1.4" fill="none" stroke="#B552E0" stroke-width="1.15"/>
<circle cx="302.40" cy="181.34" r="1.4" fill="none" stroke="#B552E0" stroke-width="1.15"/>
<circle cx="305.80" cy="181.34" r="1.4" fill="none" stroke="#B552E0" stroke-width="1.15"/>
<circle cx="309.20" cy="181.34" r="1.4" fill="none" stroke="#B552E0" stroke-width="1.15"/>
<circle cx="287.10" cy="182.58" r="1.4" fill="none" stroke="#B552E0" stroke-width="1.15"/>
<circle cx="293.90" cy="182.58" r="1.4" fill="none" stroke="#B552E0" stroke-width="1.15"/>
<circle cx="300.70" cy="182.58" r="1.4" fill="none" stroke="#B552E0" stroke-width="1.15"/>
<circle cx="307.50" cy="182.58" r="1.4" fill="none" stroke="#B552E0" stroke-width="1.15"/>
<circle cx="287.80" cy="183.81" r="1.4" fill="none" stroke="#B552E0" stroke-width="1.15"/>
<circle cx="291.60" cy="183.81" r="1.4" fill="none" stroke="#B552E0" stroke-width="1.15"/>
<circle cx="295.40" cy="183.81" r="1.4" fill="none" stroke="#B552E0" stroke-width="1.15"/>
<circle cx="299.20" cy="183.81" r="1.4" fill="none" stroke="#B552E0" stroke-width="1.15"/>
<circle cx="303.00" cy="183.81" r="1.4" fill="none" stroke="#B552E0" stroke-width="1.15"/>
<circle cx="306.80" cy="183.81" r="1.4" fill="none" stroke="#B552E0" stroke-width="1.15"/>
<circle cx="293.30" cy="185.05" r="1.4" fill="none" stroke="#B552E0" stroke-width="1.15"/>
<circle cx="301.30" cy="185.05" r="1.4" fill="none" stroke="#B552E0" stroke-width="1.15"/>
<circle cx="292.30" cy="186.28" r="1.4" fill="none" stroke="#B552E0" stroke-width="1.15"/>
<circle cx="296.30" cy="186.28" r="1.4" fill="none" stroke="#B552E0" stroke-width="1.15"/>
<circle cx="300.30" cy="186.28" r="1.4" fill="none" stroke="#B552E0" stroke-width="1.15"/>
<circle cx="294.20" cy="188.75" r="1.4" fill="none" stroke="#B552E0" stroke-width="1.15"/>
<circle cx="297.60" cy="188.75" r="1.4" fill="none" stroke="#B552E0" stroke-width="1.15"/>
<circle cx="301.00" cy="188.75" r="1.4" fill="none" stroke="#B552E0" stroke-width="1.15"/>
<circle cx="304.40" cy="188.75" r="1.4" fill="none" stroke="#B552E0" stroke-width="1.15"/>
<circle cx="296.60" cy="189.98" r="1.4" fill="none" stroke="#B552E0" stroke-width="1.15"/>
<circle cx="300.00" cy="189.98" r="1.4" fill="none" stroke="#B552E0" stroke-width="1.15"/>
<circle cx="294.90" cy="191.22" r="1.4" fill="none" stroke="#B552E0" stroke-width="1.15"/>
<circle cx="298.30" cy="191.22" r="1.4" fill="none" stroke="#B552E0" stroke-width="1.15"/>
<circle cx="301.70" cy="191.22" r="1.4" fill="none" stroke="#B552E0" stroke-width="1.15"/>
<text x="297.9" y="161.9" font-size="12.5" text-anchor="middle" fill="#000">b</text>
<text x="360.5" y="15.8" font-size="22" text-anchor="start" font-weight="bold" fill="#000">b</text>
<text x="566.5" y="18.3" font-size="12.5" text-anchor="middle" font-style="italic" fill="#000">VSP1</text>
<rect x="459.50" y="128.39" width="26.70" height="114.11" fill="#000" stroke="none" stroke-width="0"/>
<rect x="523.40" y="160.66" width="26.70" height="81.84" fill="#000" stroke="none" stroke-width="0"/>
<rect x="587.30" y="65.59" width="26.70" height="176.91" fill="#000" stroke="none" stroke-width="0"/>
<rect x="651.20" y="165.39" width="26.70" height="77.11" fill="#000" stroke="none" stroke-width="0"/>
<line x1="424.95" y1="41.18" x2="424.95" y2="243.20" stroke="#000" stroke-width="2.45" stroke-linecap="butt"/>
<line x1="423.85" y1="242.00" x2="684.00" y2="242.00" stroke="#000" stroke-width="2.75" stroke-linecap="butt"/>
<line x1="417.75" y1="242.00" x2="424.95" y2="242.00" stroke="#000" stroke-width="2.45" stroke-linecap="butt"/>
<text x="417.05" y="247.7" font-size="12.5" text-anchor="end" fill="#000">0</text>
<line x1="417.75" y1="175.47" x2="424.95" y2="175.47" stroke="#000" stroke-width="2.45" stroke-linecap="butt"/>
<text x="417.05" y="181.16666666666666" font-size="12.5" text-anchor="end" fill="#000">200</text>
<line x1="417.75" y1="108.93" x2="424.95" y2="108.93" stroke="#000" stroke-width="2.45" stroke-linecap="butt"/>
<text x="417.05" y="114.63333333333334" font-size="12.5" text-anchor="end" fill="#000">400</text>
<line x1="417.75" y1="42.40" x2="424.95" y2="42.40" stroke="#000" stroke-width="2.45" stroke-linecap="butt"/>
<text x="417.05" y="48.10000000000001" font-size="12.5" text-anchor="end" fill="#000">600</text>
<text x="384" y="142.3" font-size="12.5" text-anchor="middle" transform="rotate(-90 384 142.3)" fill="#000">Relative expression</text>
<line x1="458.00" y1="242.00" x2="458.00" y2="249.30" stroke="#000" stroke-width="2.4" stroke-linecap="butt"/>
<text x="460.09999999999997" y="256.79999999999995" font-size="12.4" text-anchor="end" transform="rotate(-31.8 460.09999999999997 256.79999999999995)" fill="#000">WT</text>
<circle cx="432.30" cy="242.00" r="2.25" fill="#fff" stroke="#000" stroke-width="1.3"/>
<circle cx="443.20" cy="242.00" r="2.25" fill="#fff" stroke="#000" stroke-width="1.3"/>
<circle cx="454.20" cy="242.00" r="2.25" fill="#fff" stroke="#000" stroke-width="1.3"/>
<line x1="472.85" y1="128.39" x2="472.85" y2="115.25" stroke="#000" stroke-width="1.5" stroke-linecap="butt"/>
<line x1="466.25" y1="115.25" x2="479.45" y2="115.25" stroke="#000" stroke-width="1.5" stroke-linecap="butt"/>
<circle cx="472.85" cy="113.26" r="2.25" fill="#fff" stroke="#000" stroke-width="1.3"/>
<circle cx="461.85" cy="136.21" r="2.25" fill="#fff" stroke="#000" stroke-width="1.3"/>
<circle cx="483.85" cy="136.21" r="2.25" fill="#fff" stroke="#000" stroke-width="1.3"/>
<line x1="521.90" y1="242.00" x2="521.90" y2="249.30" stroke="#000" stroke-width="2.4" stroke-linecap="butt"/>
<text x="523.3" y="257.9" font-size="12.4" text-anchor="end" font-style="italic" transform="rotate(-31.8 523.3 257.9)" fill="#000">med25-4</text>
<circle cx="496.20" cy="242.00" r="2.25" fill="#fff" stroke="#000" stroke-width="1.3"/>
<circle cx="507.10" cy="242.00" r="2.25" fill="#fff" stroke="#000" stroke-width="1.3"/>
<circle cx="518.10" cy="242.00" r="2.25" fill="#fff" stroke="#000" stroke-width="1.3"/>
<line x1="536.75" y1="160.66" x2="536.75" y2="152.85" stroke="#000" stroke-width="1.5" stroke-linecap="butt"/>
<line x1="530.15" y1="152.85" x2="543.35" y2="152.85" stroke="#000" stroke-width="1.5" stroke-linecap="butt"/>
<circle cx="536.75" cy="152.31" r="2.25" fill="#fff" stroke="#000" stroke-width="1.3"/>
<circle cx="525.85" cy="166.62" r="2.25" fill="#fff" stroke="#000" stroke-width="1.3"/>
<circle cx="547.75" cy="162.16" r="2.25" fill="#fff" stroke="#000" stroke-width="1.3"/>
<line x1="585.80" y1="242.00" x2="585.80" y2="249.30" stroke="#000" stroke-width="2.4" stroke-linecap="butt"/>
<text x="587.1999999999999" y="257.9" font-size="12.4" text-anchor="end" font-style="italic" transform="rotate(-31.8 587.1999999999999 257.9)" fill="#000">mbr1-1 mbr2-1</text>
<circle cx="560.10" cy="242.00" r="2.25" fill="#fff" stroke="#000" stroke-width="1.3"/>
<circle cx="571.00" cy="242.00" r="2.25" fill="#fff" stroke="#000" stroke-width="1.3"/>
<circle cx="582.00" cy="242.00" r="2.25" fill="#fff" stroke="#000" stroke-width="1.3"/>
<line x1="600.65" y1="65.59" x2="600.65" y2="53.21" stroke="#000" stroke-width="1.5" stroke-linecap="butt"/>
<line x1="594.25" y1="53.21" x2="607.05" y2="53.21" stroke="#000" stroke-width="1.5" stroke-linecap="butt"/>
<circle cx="600.65" cy="53.21" r="2.25" fill="#fff" stroke="#000" stroke-width="1.3"/>
<circle cx="600.65" cy="64.69" r="2.25" fill="#fff" stroke="#000" stroke-width="1.3"/>
<circle cx="600.65" cy="78.99" r="2.25" fill="#fff" stroke="#000" stroke-width="1.3"/>
<line x1="649.70" y1="242.00" x2="649.70" y2="249.30" stroke="#000" stroke-width="2.4" stroke-linecap="butt"/>
<text x="651.1" y="257.9" font-size="12.4" text-anchor="end" font-style="italic" transform="rotate(-31.8 651.1 257.9)" fill="#000">med25-4 mbr1-1 mbr2-1</text>
<circle cx="624.00" cy="242.00" r="2.25" fill="#fff" stroke="#000" stroke-width="1.3"/>
<circle cx="634.90" cy="242.00" r="2.25" fill="#fff" stroke="#000" stroke-width="1.3"/>
<circle cx="645.90" cy="242.00" r="2.25" fill="#fff" stroke="#000" stroke-width="1.3"/>
<line x1="664.55" y1="165.39" x2="664.55" y2="152.28" stroke="#000" stroke-width="1.5" stroke-linecap="butt"/>
<line x1="658.15" y1="152.28" x2="670.95" y2="152.28" stroke="#000" stroke-width="1.5" stroke-linecap="butt"/>
<circle cx="664.55" cy="152.28" r="2.25" fill="#fff" stroke="#000" stroke-width="1.3"/>
<circle cx="664.55" cy="165.95" r="2.25" fill="#fff" stroke="#000" stroke-width="1.3"/>
<circle cx="664.55" cy="178.19" r="2.25" fill="#fff" stroke="#000" stroke-width="1.3"/>
<text x="472.7" y="106.8" font-size="12.5" text-anchor="middle" fill="#000">b</text>
<text x="536.5" y="145.2" font-size="12.5" text-anchor="middle" fill="#000">c</text>
<text x="600.5" y="48.2" font-size="12.5" text-anchor="middle" fill="#000">a</text>
<text x="664.4" y="145.9" font-size="12.5" text-anchor="middle" fill="#000">bc</text>
<text x="446.0" y="232.0" font-size="12.5" text-anchor="middle" fill="#000">d</text>
<text x="507.2" y="233.7" font-size="12.5" text-anchor="middle" fill="#000">d</text>
<text x="570.8" y="232.8" font-size="12.5" text-anchor="middle" fill="#000">d</text>
<text x="635.0" y="232.1" font-size="12.5" text-anchor="middle" fill="#000">d</text>
<rect x="461.90" y="40.10" width="14.50" height="8.80" fill="#fff" stroke="#000" stroke-width="1.6"/>
<rect x="461.10" y="59.30" width="16.10" height="10.40" fill="#000" stroke="none" stroke-width="0"/>
<text x="479.90000000000003" y="48.9" font-size="12.5" text-anchor="start" fill="#000">Control</text>
<text x="479.90000000000003" y="68.5" font-size="12.5" text-anchor="start" fill="#000">MeJA</text>
<text x="-0.5" y="364.2" font-size="22" text-anchor="start" font-weight="bold" fill="#000">c</text>
<text x="202" y="367.5" font-size="12.5" text-anchor="middle" font-style="italic" fill="#000">VSP2</text>
<rect x="95.00" y="455.50" width="26.70" height="137.25" fill="#000" stroke="none" stroke-width="0"/>
<rect x="158.77" y="512.01" width="26.70" height="80.74" fill="#000" stroke="none" stroke-width="0"/>
<rect x="222.54" y="428.42" width="26.70" height="164.33" fill="#000" stroke="none" stroke-width="0"/>
<rect x="286.31" y="514.20" width="26.70" height="78.55" fill="#000" stroke="none" stroke-width="0"/>
<line x1="60.40" y1="389.18" x2="60.40" y2="593.45" stroke="#000" stroke-width="2.45" stroke-linecap="butt"/>
<line x1="59.30" y1="592.25" x2="319.80" y2="592.25" stroke="#000" stroke-width="2.75" stroke-linecap="butt"/>
<line x1="53.20" y1="592.25" x2="60.40" y2="592.25" stroke="#000" stroke-width="2.45" stroke-linecap="butt"/>
<text x="52.5" y="598.45" font-size="12.5" text-anchor="end" fill="#000">0</text>
<line x1="53.20" y1="524.97" x2="60.40" y2="524.97" stroke="#000" stroke-width="2.45" stroke-linecap="butt"/>
<text x="52.5" y="531.1666666666667" font-size="12.5" text-anchor="end" fill="#000">20</text>
<line x1="53.20" y1="457.68" x2="60.40" y2="457.68" stroke="#000" stroke-width="2.45" stroke-linecap="butt"/>
<text x="52.5" y="463.88333333333327" font-size="12.5" text-anchor="end" fill="#000">40</text>
<line x1="53.20" y1="390.40" x2="60.40" y2="390.40" stroke="#000" stroke-width="2.45" stroke-linecap="butt"/>
<text x="52.5" y="396.59999999999997" font-size="12.5" text-anchor="end" fill="#000">60</text>
<text x="23.0" y="483.2" font-size="12.5" text-anchor="middle" transform="rotate(-90 23.0 483.2)" fill="#000">Relative expression</text>
<line x1="93.50" y1="592.25" x2="93.50" y2="599.55" stroke="#000" stroke-width="2.4" stroke-linecap="butt"/>
<text x="96.30000000000001" y="607.35" font-size="12.4" text-anchor="end" transform="rotate(-31.8 96.30000000000001 607.35)" fill="#000">WT</text>
<line x1="67.80" y1="589.00" x2="89.80" y2="589.00" stroke="#000" stroke-width="1.3" stroke-linecap="butt"/>
<circle cx="67.80" cy="589.05" r="2.25" fill="#fff" stroke="#000" stroke-width="1.3"/>
<circle cx="78.70" cy="588.89" r="2.25" fill="#fff" stroke="#000" stroke-width="1.3"/>
<circle cx="89.70" cy="589.05" r="2.25" fill="#fff" stroke="#000" stroke-width="1.3"/>
<line x1="108.35" y1="455.50" x2="108.35" y2="453.65" stroke="#000" stroke-width="1.5" stroke-linecap="butt"/>
<line x1="103.35" y1="453.65" x2="113.35" y2="453.65" stroke="#000" stroke-width="1.5" stroke-linecap="butt"/>
<circle cx="97.35" cy="456.67" r="2.25" fill="#fff" stroke="#000" stroke-width="1.3"/>
<circle cx="108.35" cy="452.97" r="2.25" fill="#fff" stroke="#000" stroke-width="1.3"/>
<circle cx="119.25" cy="455.50" r="2.25" fill="#fff" stroke="#000" stroke-width="1.3"/>
<line x1="157.27" y1="592.25" x2="157.27" y2="599.55" stroke="#000" stroke-width="2.4" stroke-linecap="butt"/>
<text x="158.67000000000002" y="608.15" font-size="12.4" text-anchor="end" font-style="italic" transform="rotate(-31.8 158.67000000000002 608.15)" fill="#000">med25-4</text>
<line x1="131.57" y1="591.41" x2="153.57" y2="591.41" stroke="#000" stroke-width="1.3" stroke-linecap="butt"/>
<circle cx="131.57" cy="591.41" r="2.25" fill="#fff" stroke="#000" stroke-width="1.3"/>
<circle cx="142.47" cy="591.41" r="2.25" fill="#fff" stroke="#000" stroke-width="1.3"/>
<circle cx="153.47" cy="591.41" r="2.25" fill="#fff" stroke="#000" stroke-width="1.3"/>
<line x1="172.12" y1="512.01" x2="172.12" y2="509.49" stroke="#000" stroke-width="1.5" stroke-linecap="butt"/>
<line x1="166.62" y1="509.49" x2="177.62" y2="509.49" stroke="#000" stroke-width="1.5" stroke-linecap="butt"/>
<circle cx="161.22" cy="514.54" r="2.25" fill="#fff" stroke="#000" stroke-width="1.3"/>
<circle cx="172.12" cy="509.16" r="2.25" fill="#fff" stroke="#000" stroke-width="1.3"/>
<circle cx="183.02" cy="511.85" r="2.25" fill="#fff" stroke="#000" stroke-width="1.3"/>
<line x1="221.04" y1="592.25" x2="221.04" y2="599.55" stroke="#000" stroke-width="2.4" stroke-linecap="butt"/>
<text x="222.44000000000003" y="608.15" font-size="12.4" text-anchor="end" font-style="italic" transform="rotate(-31.8 222.44000000000003 608.15)" fill="#000">mbr1-1 mbr2-1</text>
<line x1="195.34" y1="589.00" x2="217.34" y2="589.00" stroke="#000" stroke-width="1.3" stroke-linecap="butt"/>
<circle cx="195.34" cy="589.05" r="2.25" fill="#fff" stroke="#000" stroke-width="1.3"/>
<circle cx="206.24" cy="588.89" r="2.25" fill="#fff" stroke="#000" stroke-width="1.3"/>
<circle cx="217.24" cy="589.05" r="2.25" fill="#fff" stroke="#000" stroke-width="1.3"/>
<line x1="235.89" y1="428.42" x2="235.89" y2="423.03" stroke="#000" stroke-width="1.5" stroke-linecap="butt"/>
<line x1="229.19" y1="423.03" x2="242.59" y2="423.03" stroke="#000" stroke-width="1.5" stroke-linecap="butt"/>
<circle cx="235.89" cy="428.08" r="2.25" fill="#fff" stroke="#000" stroke-width="1.3"/>
<circle cx="235.89" cy="433.80" r="2.25" fill="#fff" stroke="#000" stroke-width="1.3"/>
<circle cx="246.49" cy="423.71" r="2.25" fill="#fff" stroke="#000" stroke-width="1.3"/>
<line x1="284.81" y1="592.25" x2="284.81" y2="599.55" stroke="#000" stroke-width="2.4" stroke-linecap="butt"/>
<text x="286.21" y="608.15" font-size="12.4" text-anchor="end" font-style="italic" transform="rotate(-31.8 286.21 608.15)" fill="#000">med25-4 mbr1-1 mbr2-1</text>
<line x1="259.11" y1="591.41" x2="281.11" y2="591.41" stroke="#000" stroke-width="1.3" stroke-linecap="butt"/>
<circle cx="259.11" cy="591.41" r="2.25" fill="#fff" stroke="#000" stroke-width="1.3"/>
<circle cx="270.01" cy="591.41" r="2.25" fill="#fff" stroke="#000" stroke-width="1.3"/>
<circle cx="281.01" cy="591.41" r="2.25" fill="#fff" stroke="#000" stroke-width="1.3"/>
<circle cx="288.66" cy="514.20" r="2.25" fill="#fff" stroke="#000" stroke-width="1.3"/>
<circle cx="299.66" cy="513.19" r="2.25" fill="#fff" stroke="#000" stroke-width="1.3"/>
<circle cx="310.56" cy="513.86" r="2.25" fill="#fff" stroke="#000" stroke-width="1.3"/>
<line x1="59.30" y1="592.25" x2="319.80" y2="592.25" stroke="#000" stroke-width="2.75" stroke-linecap="butt"/>
<text x="109.1" y="446.7" font-size="12.5" text-anchor="middle" fill="#000">b</text>
<text x="173.7" y="502.9" font-size="12.5" text-anchor="middle" fill="#000">c</text>
<text x="237.5" y="416.4" font-size="12.5" text-anchor="middle" fill="#000">a</text>
<text x="301.0" y="505.8" font-size="12.5" text-anchor="middle" fill="#000">c</text>
<text x="80.5" y="582.0" font-size="12.5" text-anchor="middle" fill="#000">d</text>
<text x="145.2" y="585.0" font-size="12.5" text-anchor="middle" fill="#000">d</text>
<text x="208.0" y="582.9" font-size="12.5" text-anchor="middle" fill="#000">d</text>
<text x="271.8" y="585.0" font-size="12.5" text-anchor="middle" fill="#000">d</text>
<rect x="97.00" y="392.70" width="14.50" height="8.80" fill="#fff" stroke="#000" stroke-width="1.6"/>
<rect x="96.20" y="409.40" width="16.10" height="10.40" fill="#000" stroke="none" stroke-width="0"/>
<text x="115.0" y="401.5" font-size="12.5" text-anchor="start" fill="#000">Control</text>
<text x="115.0" y="418.59999999999997" font-size="12.5" text-anchor="start" fill="#000">MeJA</text>
<text x="361.1" y="364.5" font-size="22" text-anchor="start" font-weight="bold" fill="#000">d</text>
<text x="563.3" y="364.5" font-size="12.5" text-anchor="middle" font-style="italic" fill="#000">PDF1.2</text>
<rect x="462.30" y="467.20" width="26.70" height="127.70" fill="#000" stroke="none" stroke-width="0"/>
<rect x="588.16" y="440.10" width="26.70" height="154.80" fill="#000" stroke="none" stroke-width="0"/>
<line x1="428.25" y1="394.28" x2="428.25" y2="595.60" stroke="#000" stroke-width="2.45" stroke-linecap="butt"/>
<line x1="427.15" y1="594.40" x2="683.60" y2="594.40" stroke="#000" stroke-width="2.75" stroke-linecap="butt"/>
<line x1="421.05" y1="594.40" x2="428.25" y2="594.40" stroke="#000" stroke-width="2.45" stroke-linecap="butt"/>
<text x="420.35" y="599.1999999999999" font-size="12.5" text-anchor="end" fill="#000">0</text>
<line x1="421.05" y1="544.67" x2="428.25" y2="544.67" stroke="#000" stroke-width="2.45" stroke-linecap="butt"/>
<text x="420.35" y="549.4749999999999" font-size="12.5" text-anchor="end" fill="#000">1000</text>
<line x1="421.05" y1="494.95" x2="428.25" y2="494.95" stroke="#000" stroke-width="2.45" stroke-linecap="butt"/>
<text x="420.35" y="499.75" font-size="12.5" text-anchor="end" fill="#000">2000</text>
<line x1="421.05" y1="445.23" x2="428.25" y2="445.23" stroke="#000" stroke-width="2.45" stroke-linecap="butt"/>
<text x="420.35" y="450.02500000000003" font-size="12.5" text-anchor="end" fill="#000">3000</text>
<line x1="421.05" y1="395.50" x2="428.25" y2="395.50" stroke="#000" stroke-width="2.45" stroke-linecap="butt"/>
<text x="420.35" y="400.3" font-size="12.5" text-anchor="end" fill="#000">4000</text>
<text x="379" y="484.2" font-size="12.5" text-anchor="middle" transform="rotate(-90 379 484.2)" fill="#000">Relative expression</text>
<line x1="460.60" y1="594.40" x2="460.60" y2="601.70" stroke="#000" stroke-width="2.4" stroke-linecap="butt"/>
<text x="462.5" y="609.4" font-size="12.4" text-anchor="end" transform="rotate(-31.8 462.5 609.4)" fill="#000">WT</text>
<circle cx="435.30" cy="594.40" r="2.25" fill="#fff" stroke="#000" stroke-width="1.3"/>
<circle cx="446.20" cy="594.40" r="2.25" fill="#fff" stroke="#000" stroke-width="1.3"/>
<circle cx="457.20" cy="594.40" r="2.25" fill="#fff" stroke="#000" stroke-width="1.3"/>
<line x1="475.65" y1="467.20" x2="475.65" y2="465.86" stroke="#000" stroke-width="1.5" stroke-linecap="butt"/>
<line x1="470.65" y1="465.86" x2="480.65" y2="465.86" stroke="#000" stroke-width="1.5" stroke-linecap="butt"/>
<circle cx="464.85" cy="468.30" r="2.25" fill="#fff" stroke="#000" stroke-width="1.3"/>
<circle cx="475.65" cy="465.21" r="2.25" fill="#fff" stroke="#000" stroke-width="1.3"/>
<circle cx="486.25" cy="468.30" r="2.25" fill="#fff" stroke="#000" stroke-width="1.3"/>
<line x1="523.53" y1="594.40" x2="523.53" y2="601.70" stroke="#000" stroke-width="2.4" stroke-linecap="butt"/>
<text x="524.93" y="610.3" font-size="12.4" text-anchor="end" font-style="italic" transform="rotate(-31.8 524.93 610.3)" fill="#000">med25-4</text>
<circle cx="498.23" cy="594.40" r="2.25" fill="#fff" stroke="#000" stroke-width="1.3"/>
<circle cx="509.13" cy="594.40" r="2.25" fill="#fff" stroke="#000" stroke-width="1.3"/>
<circle cx="520.13" cy="594.40" r="2.25" fill="#fff" stroke="#000" stroke-width="1.3"/>
<circle cx="527.58" cy="594.40" r="2.25" fill="#fff" stroke="#000" stroke-width="1.3"/>
<circle cx="538.58" cy="594.40" r="2.25" fill="#fff" stroke="#000" stroke-width="1.3"/>
<circle cx="549.58" cy="594.40" r="2.25" fill="#fff" stroke="#000" stroke-width="1.3"/>
<line x1="586.46" y1="594.40" x2="586.46" y2="601.70" stroke="#000" stroke-width="2.4" stroke-linecap="butt"/>
<text x="587.86" y="610.3" font-size="12.4" text-anchor="end" font-style="italic" transform="rotate(-31.8 587.86 610.3)" fill="#000">mbr1-1 mbr2-1</text>
<circle cx="561.16" cy="594.40" r="2.25" fill="#fff" stroke="#000" stroke-width="1.3"/>
<circle cx="572.06" cy="594.40" r="2.25" fill="#fff" stroke="#000" stroke-width="1.3"/>
<circle cx="583.06" cy="594.40" r="2.25" fill="#fff" stroke="#000" stroke-width="1.3"/>
<line x1="601.51" y1="440.10" x2="601.51" y2="431.90" stroke="#000" stroke-width="1.5" stroke-linecap="butt"/>
<line x1="595.31" y1="431.90" x2="607.71" y2="431.90" stroke="#000" stroke-width="1.5" stroke-linecap="butt"/>
<circle cx="601.51" cy="431.90" r="2.25" fill="#fff" stroke="#000" stroke-width="1.3"/>
<circle cx="601.51" cy="441.20" r="2.25" fill="#fff" stroke="#000" stroke-width="1.3"/>
<circle cx="601.51" cy="446.32" r="2.25" fill="#fff" stroke="#000" stroke-width="1.3"/>
<line x1="649.39" y1="594.40" x2="649.39" y2="601.70" stroke="#000" stroke-width="2.4" stroke-linecap="butt"/>
<text x="650.79" y="610.3" font-size="12.4" text-anchor="end" font-style="italic" transform="rotate(-31.8 650.79 610.3)" fill="#000">med25-4 mbr1-1 mbr2-1</text>
<circle cx="624.09" cy="594.40" r="2.25" fill="#fff" stroke="#000" stroke-width="1.3"/>
<circle cx="634.99" cy="594.40" r="2.25" fill="#fff" stroke="#000" stroke-width="1.3"/>
<circle cx="645.99" cy="594.40" r="2.25" fill="#fff" stroke="#000" stroke-width="1.3"/>
<circle cx="653.44" cy="594.40" r="2.25" fill="#fff" stroke="#000" stroke-width="1.3"/>
<circle cx="664.44" cy="594.40" r="2.25" fill="#fff" stroke="#000" stroke-width="1.3"/>
<circle cx="675.44" cy="594.40" r="2.25" fill="#fff" stroke="#000" stroke-width="1.3"/>
<text x="474.7" y="456.9" font-size="12.5" text-anchor="middle" fill="#000">b</text>
<text x="600.9" y="425.0" font-size="12.5" text-anchor="middle" fill="#000">a</text>
<text x="448.0" y="585.1" font-size="12.5" text-anchor="middle" fill="#000">c</text>
<text x="511.0" y="587.0" font-size="12.5" text-anchor="middle" fill="#000">c</text>
<text x="539.2" y="585.1" font-size="12.5" text-anchor="middle" fill="#000">c</text>
<text x="573.5" y="585.1" font-size="12.5" text-anchor="middle" fill="#000">c</text>
<text x="635.7" y="584.8" font-size="12.5" text-anchor="middle" fill="#000">c</text>
<text x="664.1" y="584.8" font-size="12.5" text-anchor="middle" fill="#000">c</text>
<rect x="461.30" y="390.80" width="14.50" height="8.80" fill="#fff" stroke="#000" stroke-width="1.6"/>
<rect x="460.50" y="408.00" width="16.10" height="10.40" fill="#000" stroke="none" stroke-width="0"/>
<text x="478.6" y="399.6" font-size="12.5" text-anchor="start" fill="#000">Control</text>
<text x="478.6" y="417.2" font-size="12.5" text-anchor="start" fill="#000">MeJA</text>
<text x="-0.8" y="707.7" font-size="22" text-anchor="start" font-weight="bold" fill="#000">e</text>
<text x="199" y="715.5" font-size="12.5" text-anchor="middle" font-style="italic" fill="#000">Thi2.1</text>
<rect x="97.00" y="809.51" width="26.70" height="134.89" fill="#000" stroke="none" stroke-width="0"/>
<rect x="161.10" y="838.71" width="26.70" height="105.69" fill="#000" stroke="none" stroke-width="0"/>
<rect x="225.20" y="787.60" width="26.70" height="156.80" fill="#000" stroke="none" stroke-width="0"/>
<rect x="289.30" y="832.12" width="26.70" height="112.28" fill="#000" stroke="none" stroke-width="0"/>
<line x1="62.25" y1="744.58" x2="62.25" y2="945.10" stroke="#000" stroke-width="2.45" stroke-linecap="butt"/>
<line x1="61.15" y1="943.90" x2="322.70" y2="943.90" stroke="#000" stroke-width="2.75" stroke-linecap="butt"/>
<line x1="55.05" y1="943.90" x2="62.25" y2="943.90" stroke="#000" stroke-width="2.45" stroke-linecap="butt"/>
<text x="54.35" y="948.4" font-size="12.5" text-anchor="end" fill="#000">0</text>
<line x1="55.05" y1="894.38" x2="62.25" y2="894.38" stroke="#000" stroke-width="2.45" stroke-linecap="butt"/>
<text x="54.35" y="898.875" font-size="12.5" text-anchor="end" fill="#000">2000</text>
<line x1="55.05" y1="844.85" x2="62.25" y2="844.85" stroke="#000" stroke-width="2.45" stroke-linecap="butt"/>
<text x="54.35" y="849.3499999999999" font-size="12.5" text-anchor="end" fill="#000">4000</text>
<line x1="55.05" y1="795.32" x2="62.25" y2="795.32" stroke="#000" stroke-width="2.45" stroke-linecap="butt"/>
<text x="54.35" y="799.8249999999999" font-size="12.5" text-anchor="end" fill="#000">6000</text>
<line x1="55.05" y1="745.80" x2="62.25" y2="745.80" stroke="#000" stroke-width="2.45" stroke-linecap="butt"/>
<text x="54.35" y="750.3" font-size="12.5" text-anchor="end" fill="#000">8000</text>
<text x="12.2" y="836.5" font-size="12.5" text-anchor="middle" transform="rotate(-90 12.2 836.5)" fill="#000">Relative expression</text>
<line x1="95.40" y1="943.90" x2="95.40" y2="951.20" stroke="#000" stroke-width="2.4" stroke-linecap="butt"/>
<text x="98.20000000000002" y="959.9" font-size="12.4" text-anchor="end" transform="rotate(-31.8 98.20000000000002 959.9)" fill="#000">WT</text>
<circle cx="69.70" cy="943.90" r="2.25" fill="#fff" stroke="#000" stroke-width="1.3"/>
<circle cx="80.60" cy="943.90" r="2.25" fill="#fff" stroke="#000" stroke-width="1.3"/>
<circle cx="91.60" cy="943.90" r="2.25" fill="#fff" stroke="#000" stroke-width="1.3"/>
<line x1="110.35" y1="809.51" x2="110.35" y2="808.03" stroke="#000" stroke-width="1.5" stroke-linecap="butt"/>
<line x1="105.35" y1="808.03" x2="115.35" y2="808.03" stroke="#000" stroke-width="1.5" stroke-linecap="butt"/>
<circle cx="99.05" cy="810.21" r="2.25" fill="#fff" stroke="#000" stroke-width="1.3"/>
<circle cx="109.95" cy="807.31" r="2.25" fill="#fff" stroke="#000" stroke-width="1.3"/>
<circle cx="120.95" cy="809.12" r="2.25" fill="#fff" stroke="#000" stroke-width="1.3"/>
<line x1="159.50" y1="943.90" x2="159.50" y2="951.20" stroke="#000" stroke-width="2.4" stroke-linecap="butt"/>
<text x="160.9" y="959.8" font-size="12.4" text-anchor="end" font-style="italic" transform="rotate(-31.8 160.9 959.8)" fill="#000">med25-4</text>
<circle cx="133.80" cy="943.90" r="2.25" fill="#fff" stroke="#000" stroke-width="1.3"/>
<circle cx="144.70" cy="943.90" r="2.25" fill="#fff" stroke="#000" stroke-width="1.3"/>
<circle cx="155.70" cy="943.90" r="2.25" fill="#fff" stroke="#000" stroke-width="1.3"/>
<line x1="174.45" y1="838.71" x2="174.45" y2="836.90" stroke="#000" stroke-width="1.5" stroke-linecap="butt"/>
<line x1="169.45" y1="836.90" x2="179.45" y2="836.90" stroke="#000" stroke-width="1.5" stroke-linecap="butt"/>
<circle cx="163.35" cy="840.12" r="2.25" fill="#fff" stroke="#000" stroke-width="1.3"/>
<circle cx="174.35" cy="836.90" r="2.25" fill="#fff" stroke="#000" stroke-width="1.3"/>
<circle cx="185.25" cy="836.90" r="2.25" fill="#fff" stroke="#000" stroke-width="1.3"/>
<line x1="223.60" y1="943.90" x2="223.60" y2="951.20" stroke="#000" stroke-width="2.4" stroke-linecap="butt"/>
<text x="225.0" y="959.8" font-size="12.4" text-anchor="end" font-style="italic" transform="rotate(-31.8 225.0 959.8)" fill="#000">mbr1-1 mbr2-1</text>
<circle cx="197.90" cy="943.90" r="2.25" fill="#fff" stroke="#000" stroke-width="1.3"/>
<circle cx="208.80" cy="943.90" r="2.25" fill="#fff" stroke="#000" stroke-width="1.3"/>
<circle cx="219.80" cy="943.90" r="2.25" fill="#fff" stroke="#000" stroke-width="1.3"/>
<line x1="238.55" y1="787.60" x2="238.55" y2="782.82" stroke="#000" stroke-width="1.5" stroke-linecap="butt"/>
<line x1="232.05" y1="782.82" x2="245.05" y2="782.82" stroke="#000" stroke-width="1.5" stroke-linecap="butt"/>
<circle cx="238.15" cy="786.51" r="2.25" fill="#fff" stroke="#000" stroke-width="1.3"/>
<circle cx="238.15" cy="793.10" r="2.25" fill="#fff" stroke="#000" stroke-width="1.3"/>
<circle cx="249.05" cy="783.91" r="2.25" fill="#fff" stroke="#000" stroke-width="1.3"/>
<line x1="287.70" y1="943.90" x2="287.70" y2="951.20" stroke="#000" stroke-width="2.4" stroke-linecap="butt"/>
<text x="289.09999999999997" y="959.8" font-size="12.4" text-anchor="end" font-style="italic" transform="rotate(-31.8 289.09999999999997 959.8)" fill="#000">med25-4 mbr1-1 mbr2-1</text>
<circle cx="262.00" cy="943.90" r="2.25" fill="#fff" stroke="#000" stroke-width="1.3"/>
<circle cx="272.90" cy="943.90" r="2.25" fill="#fff" stroke="#000" stroke-width="1.3"/>
<circle cx="283.90" cy="943.90" r="2.25" fill="#fff" stroke="#000" stroke-width="1.3"/>
<line x1="302.65" y1="832.12" x2="302.65" y2="824.82" stroke="#000" stroke-width="1.5" stroke-linecap="butt"/>
<line x1="296.35" y1="824.82" x2="308.95" y2="824.82" stroke="#000" stroke-width="1.5" stroke-linecap="butt"/>
<circle cx="302.65" cy="824.82" r="2.25" fill="#fff" stroke="#000" stroke-width="1.3"/>
<circle cx="302.65" cy="833.21" r="2.25" fill="#fff" stroke="#000" stroke-width="1.3"/>
<circle cx="302.65" cy="838.31" r="2.25" fill="#fff" stroke="#000" stroke-width="1.3"/>
<text x="111.3" y="800.4" font-size="12.5" text-anchor="middle" fill="#000">b</text>
<text x="175.1" y="830.7" font-size="12.5" text-anchor="middle" fill="#000">c</text>
<text x="240.1" y="777.0" font-size="12.5" text-anchor="middle" fill="#000">a</text>
<text x="302.2" y="818.2" font-size="12.5" text-anchor="middle" fill="#000">c</text>
<text x="82.4" y="936.0" font-size="12.5" text-anchor="middle" fill="#000">d</text>
<text x="145.9" y="937.5" font-size="12.5" text-anchor="middle" fill="#000">d</text>
<text x="209.9" y="937.5" font-size="12.5" text-anchor="middle" fill="#000">d</text>
<text x="274.7" y="937.0" font-size="12.5" text-anchor="middle" fill="#000">d</text>
<rect x="95.80" y="747.30" width="14.50" height="8.80" fill="#fff" stroke="#000" stroke-width="1.6"/>
<rect x="95.00" y="763.90" width="16.10" height="10.40" fill="#000" stroke="none" stroke-width="0"/>
<text x="112.8" y="756.1" font-size="12.5" text-anchor="start" fill="#000">Control</text>
<text x="112.8" y="773.1" font-size="12.5" text-anchor="start" fill="#000">MeJA</text>
</svg>
</body></html>
